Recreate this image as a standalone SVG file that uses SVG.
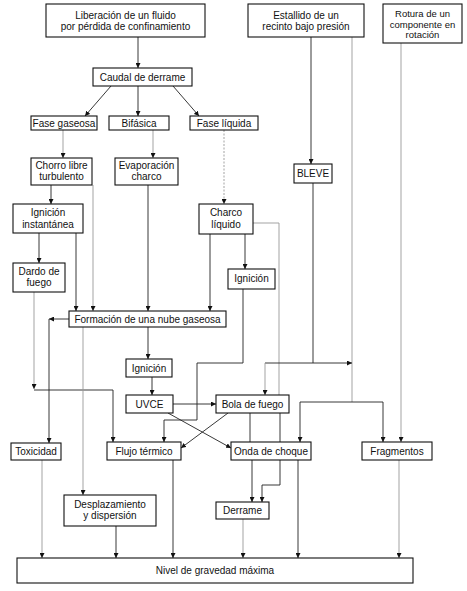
<svg xmlns="http://www.w3.org/2000/svg" width="467" height="591" viewBox="0 0 467 591">
<defs>
<style>
.box{fill:#fff;stroke:#111;stroke-width:1.1}
text{font-family:"Liberation Sans",Arial,sans-serif;font-size:10px;fill:#111;text-anchor:middle}
.sm{font-size:9.5px}
.c{fill:none;stroke:#222;stroke-width:0.9}
.g{fill:none;stroke:#999;stroke-width:0.9}
.d{fill:none;stroke:#999;stroke-width:0.9;stroke-dasharray:2 1.5}
</style>
<marker id="a" viewBox="0 0 6 6" refX="6" refY="3" markerWidth="5" markerHeight="5" markerUnits="userSpaceOnUse" orient="auto">
<path d="M0,0L6,3L0,6z" fill="#111"/>
</marker>
</defs>
<rect width="467" height="591" fill="#fff"/>
<g id="connectors">
<path class="c" d="M138,37V68" marker-end="url(#a)"/>
<path class="c" d="M111,86L85,116" marker-end="url(#a)"/>
<path class="c" d="M138,86V116" marker-end="url(#a)"/>
<path class="c" d="M173,86L199,116" marker-end="url(#a)"/>
<path class="g" d="M63,130V158" marker-end="url(#a)"/>
<path class="g" d="M153,130V158" marker-end="url(#a)"/>
<path class="d" d="M224,130V204" marker-end="url(#a)"/>
<path class="c" d="M311,37V164" marker-end="url(#a)"/>
<path class="g" d="M352,37V402"/>
<path class="g" d="M401,43V442" marker-end="url(#a)"/>
<path class="c" d="M51,185V204" marker-end="url(#a)"/>
<path class="g" d="M93,185V311" marker-end="url(#a)"/>
<path class="c" d="M148,185V311" marker-end="url(#a)"/>
<path class="c" d="M39,233V263" marker-end="url(#a)"/>
<path class="c" d="M76,233V311" marker-end="url(#a)"/>
<path class="c" d="M210,234V311" marker-end="url(#a)"/>
<path class="c" d="M245,234V269" marker-end="url(#a)"/>
<path class="g" d="M253,223H279V395"/>
<path class="c" d="M243,289V363H197V420H164V442" marker-end="url(#a)"/>
<path class="g" d="M34,292V389" marker-end="url(#a)"/>
<path class="c" d="M34,390H113V442" marker-end="url(#a)"/>
<path class="c" d="M69,319H49" marker-end="url(#a)"/>
<path class="c" d="M49,319V443" marker-end="url(#a)"/>
<path class="g" d="M83,327V495" marker-end="url(#a)"/>
<path class="c" d="M148,327V359" marker-end="url(#a)"/>
<path class="c" d="M152,377V395" marker-end="url(#a)"/>
<path class="c" d="M313,183V363H265"/>
<path class="g" d="M265,363V395" marker-end="url(#a)"/>
<path class="c" d="M313,363H352" marker-end="url(#a)"/>
<path class="c" d="M173,404H216" marker-end="url(#a)"/>
<path class="c" d="M168,413L231,448" marker-end="url(#a)"/>
<path class="c" d="M228,413L181,448" marker-end="url(#a)"/>
<path class="c" d="M300,402H383V442" marker-end="url(#a)"/>
<path class="c" d="M300,402V442" marker-end="url(#a)"/>
<path class="c" d="M250,413V442"/>
<path class="c" d="M280,413V442"/>
<path class="c" d="M252,460V502" marker-end="url(#a)"/>
<path class="c" d="M280,460V485H262V502" marker-end="url(#a)"/>
<path class="g" d="M42,460V558" marker-end="url(#a)"/>
<path class="c" d="M116,526V558" marker-end="url(#a)"/>
<path class="c" d="M173,460V558" marker-end="url(#a)"/>
<path class="g" d="M243,519V558" marker-end="url(#a)"/>
<path class="c" d="M298,460V558" marker-end="url(#a)"/>
<path class="g" d="M399,460V558" marker-end="url(#a)"/>
</g>
<g id="n1"><rect class="box" x="46" y="4" width="159" height="33"/><text x="125.5" y="19">Liberación de un fluido</text><text x="125.5" y="30">por pérdida de confinamiento</text></g>
<g id="n2"><rect class="box" x="248" y="4" width="116" height="33"/><text x="306" y="19">Estallido de un</text><text x="306" y="30">recinto bajo presión</text></g>
<g id="n3"><rect class="box" x="383" y="4" width="79" height="39"/><text class="sm" x="422.5" y="16.5">Rotura de un</text><text class="sm" x="422.5" y="27.5">componente en</text><text class="sm" x="422.5" y="38">rotación</text></g>
<g id="n4"><rect class="box" x="93" y="68" width="99" height="18"/><text x="142.5" y="80.5">Caudal de derrame</text></g>
<g id="n5"><rect class="box" x="31" y="116" width="66" height="14"/><text x="64" y="126.5">Fase gaseosa</text></g>
<g id="n6"><rect class="box" x="109" y="116" width="60" height="14"/><text x="139" y="126.5">Bifásica</text></g>
<g id="n7"><rect class="box" x="190" y="116" width="68" height="14"/><text x="224" y="126.5">Fase líquida</text></g>
<g id="n8"><rect class="box" x="31" y="158" width="61" height="27"/><text x="61.5" y="169">Chorro libre</text><text x="61.5" y="180">turbulento</text></g>
<g id="n9"><rect class="box" x="115" y="158" width="63" height="27"/><text x="146.5" y="169">Evaporación</text><text x="146.5" y="180">charco</text></g>
<g id="n10"><rect class="box" x="294" y="164" width="38" height="19"/><text x="313" y="176.5">BLEVE</text></g>
<g id="n11"><rect class="box" x="13" y="204" width="70" height="29"/><text x="48" y="216">Ignición</text><text x="48" y="227.5">instantánea</text></g>
<g id="n12"><rect class="box" x="199" y="204" width="54" height="30"/><text x="226" y="216">Charco</text><text x="226" y="227.5">líquido</text></g>
<g id="n13"><rect class="box" x="13" y="263" width="52" height="29"/><text x="39" y="275">Dardo de</text><text x="39" y="286">fuego</text></g>
<g id="n14"><rect class="box" x="228" y="269" width="47" height="20"/><text x="251.5" y="282">Ignición</text></g>
<g id="n15"><rect class="box" x="69" y="311" width="157" height="16"/><text x="147.5" y="322.5">Formación de una nube gaseosa</text></g>
<g id="n16"><rect class="box" x="126" y="359" width="46" height="18"/><text x="149" y="371.5">Ignición</text></g>
<g id="n17"><rect class="box" x="126" y="395" width="47" height="18"/><text x="149.5" y="407.5">UVCE</text></g>
<g id="n18"><rect class="box" x="216" y="395" width="73" height="18"/><text x="252.5" y="407.5">Bola de fuego</text></g>
<g id="n19"><rect class="box" x="11" y="443" width="50" height="17"/><text x="36" y="455">Toxicidad</text></g>
<g id="n20"><rect class="box" x="107" y="442" width="74" height="18"/><text x="144" y="454.5">Flujo térmico</text></g>
<g id="n21"><rect class="box" x="231" y="442" width="80" height="18"/><text x="271" y="454.5">Onda de choque</text></g>
<g id="n22"><rect class="box" x="362" y="442" width="70" height="18"/><text x="397" y="454.5">Fragmentos</text></g>
<g id="n23"><rect class="box" x="64" y="495" width="92" height="31"/><text x="110" y="508">Desplazamiento</text><text x="110" y="519">y dispersión</text></g>
<g id="n24"><rect class="box" x="216" y="502" width="53" height="17"/><text x="242.5" y="514">Derrame</text></g>
<g id="n25"><rect class="box" x="17" y="558" width="396" height="25"/><text x="215" y="573.5">Nivel de gravedad máxima</text></g>
</svg>
